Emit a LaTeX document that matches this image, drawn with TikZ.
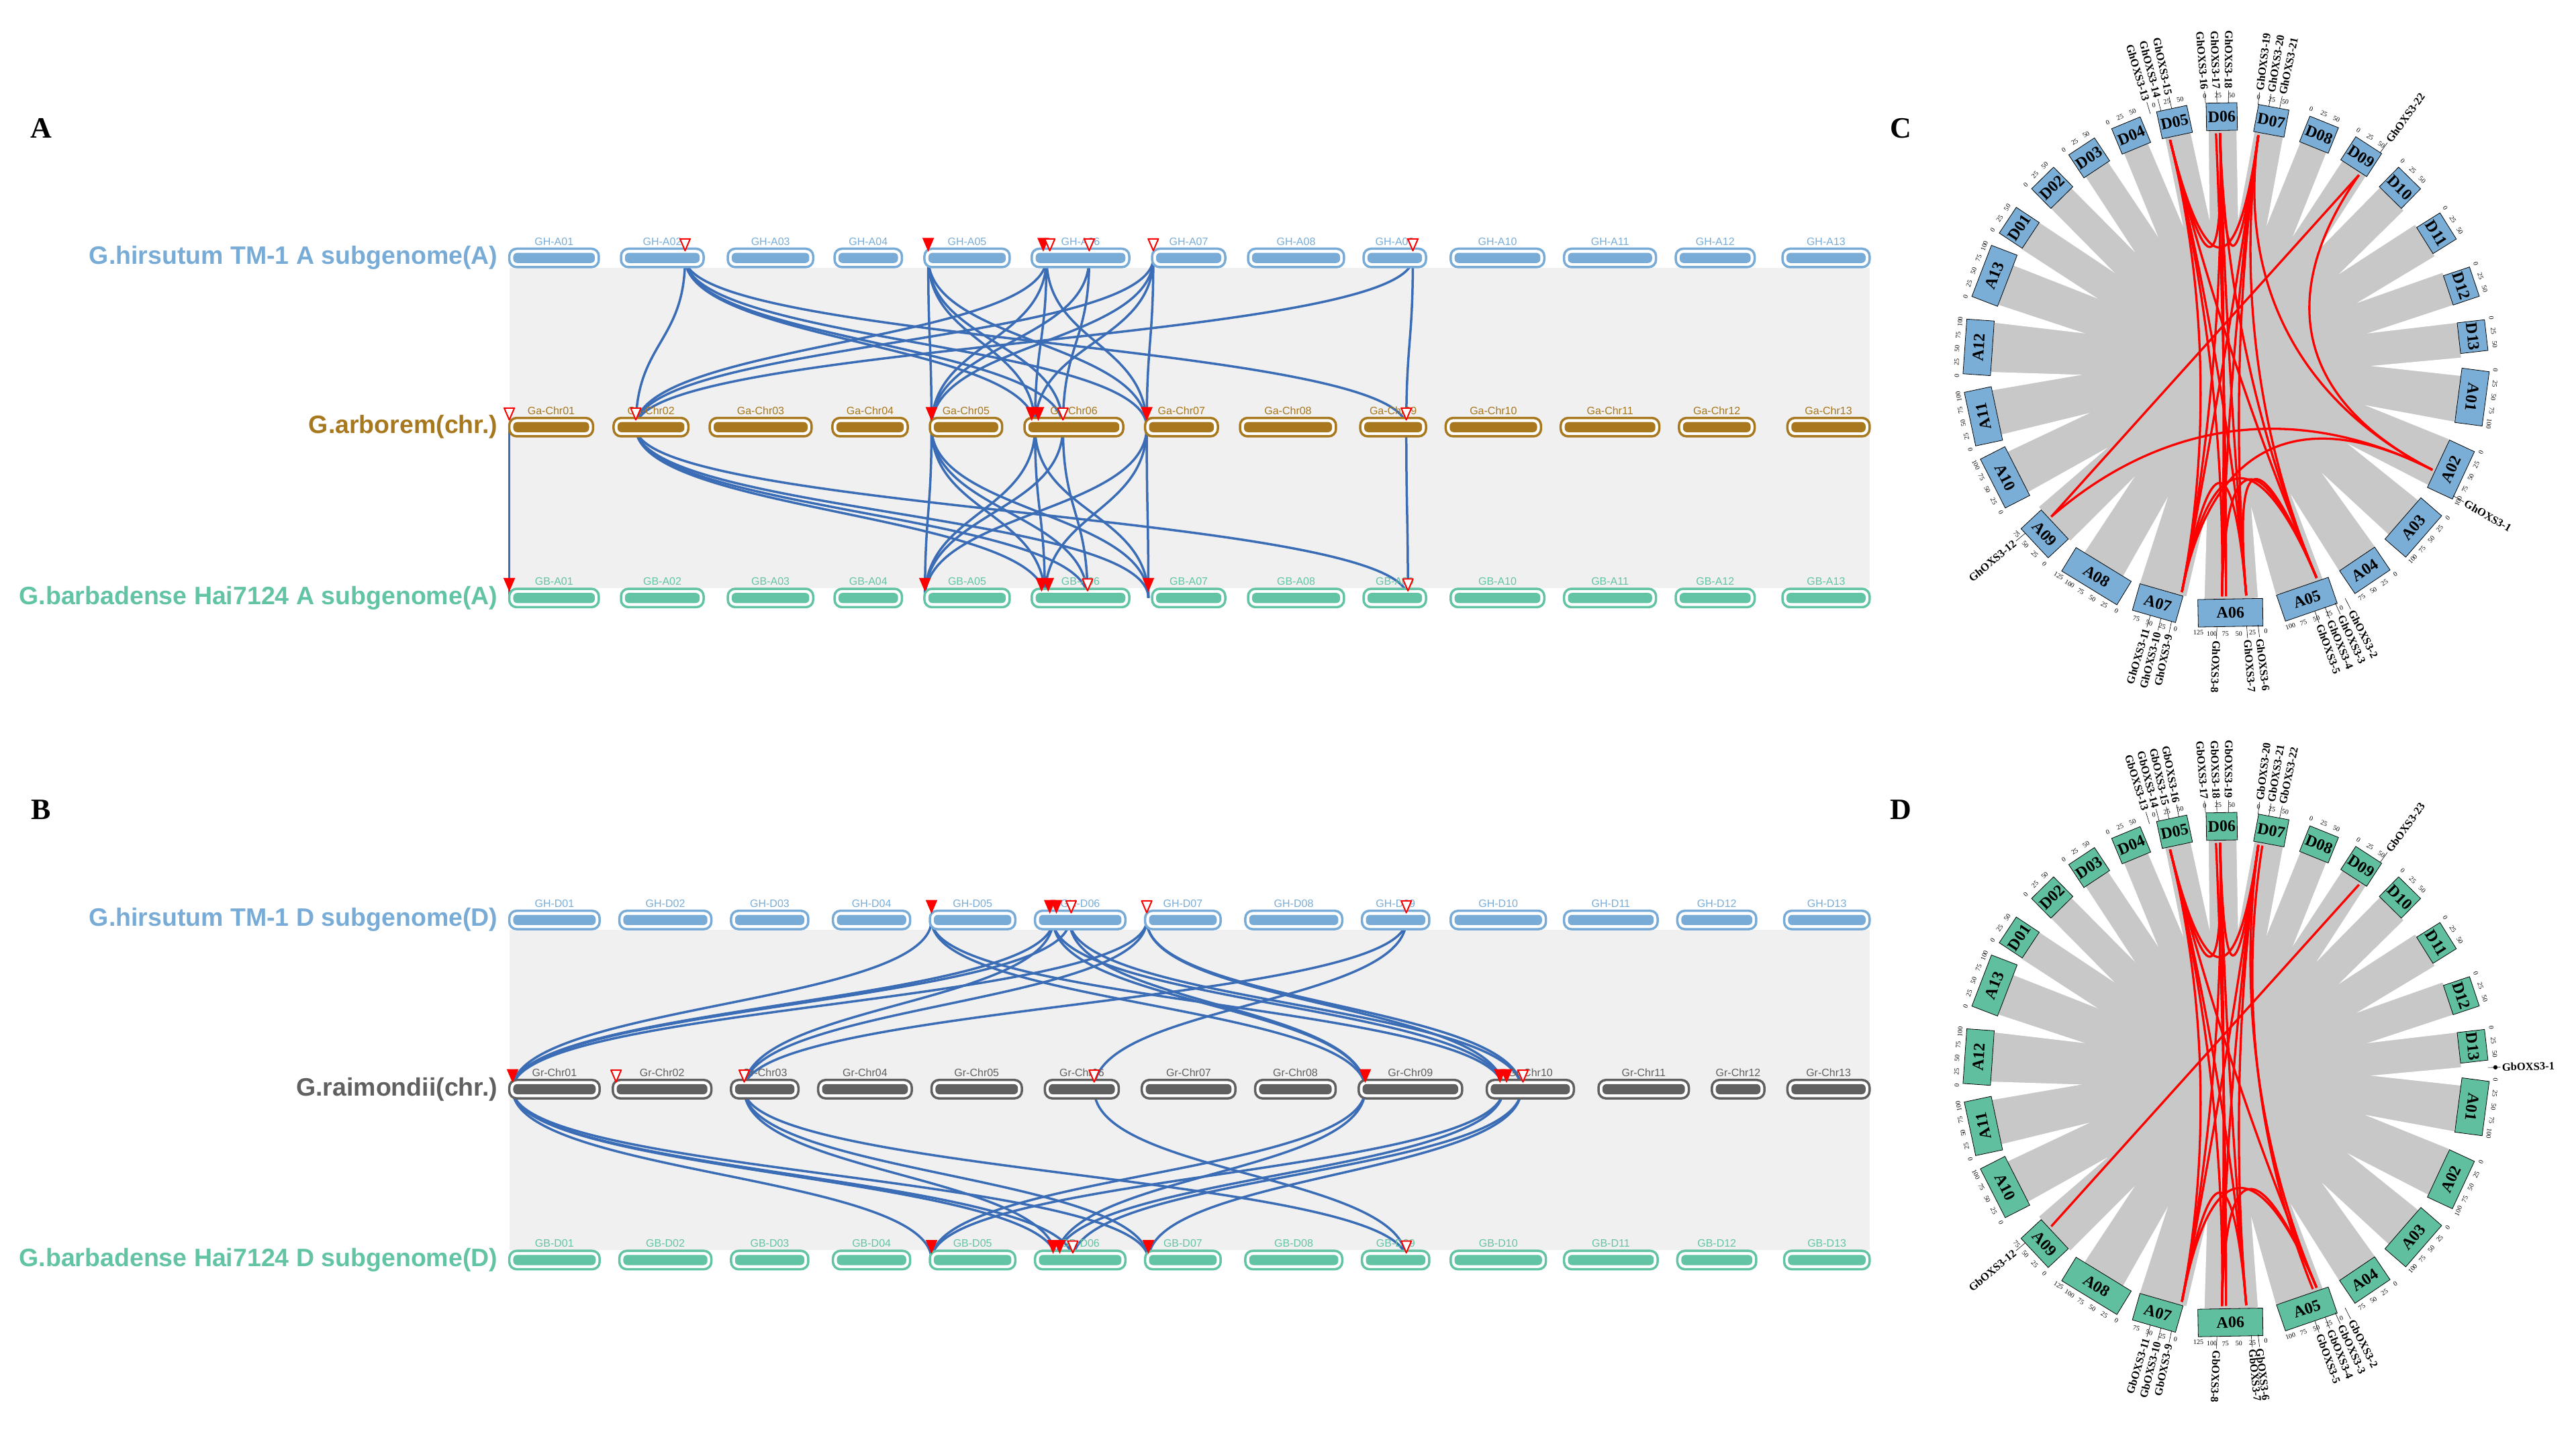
\documentclass[tikz,border=0pt]{standalone}
\usepackage{fontspec}
\setmainfont{Liberation Serif}
\newfontfamily\sansf{Liberation Sans}
\usetikzlibrary{calc}
\definecolor{ghc}{HTML}{78ACD6}
\definecolor{gac}{HTML}{A8781E}
\definecolor{gbc}{HTML}{62C3A5}
\definecolor{grc}{HTML}{606060}
\definecolor{bandg}{HTML}{F0F0F0}
\definecolor{linkb}{HTML}{3A6DB5}
\definecolor{cgray}{HTML}{C8C8C8}
\definecolor{cblue}{HTML}{7AAED6}
\definecolor{cteal}{HTML}{5FBF9F}
\tikzset{
 clab/.style={font=\sansf\fontsize{16}{16}\selectfont, inner sep=0pt},
 rowlab/.style={font=\sansf\bfseries\fontsize{37.5}{37.5}\selectfont, inner sep=0pt, anchor=east},
 plet/.style={font=\bfseries\fontsize{44}{44}\selectfont, inner sep=0pt},
 blk/.style={linkb, line width=3.5pt},
 rl/.style={red, line width=3.3pt},
 cbox/.style={draw=black, line width=0.8pt, minimum height=41pt, inner sep=0pt, font=\bfseries\fontsize{24}{24}\selectfont},
 tk/.style={font=\fontsize{10}{10}\selectfont, inner sep=0pt},
 gl/.style={font=\bfseries\fontsize{16.5}{16.5}\selectfont, inner sep=0pt},
}
\newcommand\cbar[6]{%
 \draw[#5, line width=3.5pt, fill=white, rounded corners=11pt] (#2,#4-5.6) rectangle (#3,#4+5.6);
 \fill[#5, rounded corners=6pt] (#2+2.4,#4-3.1) rectangle (#3-2.4,#4+3.1);
 \node[clab, text=#5] (#1) at ({(#2+#3)/2},#4-10) {#6};}
\newcommand\mko[2]{\draw[red,line width=2pt,fill=white,line join=round] (#1-3.1,#2-11.6) -- (#1+3.1,#2-11.6) -- (#1,#2-4.4) -- cycle;}
\newcommand\mkf[2]{\fill[red] (#1-3.6,#2-12.2) -- (#1+3.6,#2-12.2) -- (#1,#2-3.8) -- cycle;}
\newcommand\lk[2]{\path ($(#1)!0.5!(#2)$) coordinate (lkm); \draw[blk] (#1) .. controls (#1 |- lkm) and (#2 |- lkm) .. (#2);}
\newcommand\chord[2]{\draw[rl] (#1:141) .. controls (#1:50) and (#2:50) .. (#2:141);}
\newcommand\glab[3]{%
 \pgfmathsetmacro\gro{(#2>85 || #2<-100) ? #2+180 : #2}%
 \pgfmathsetmacro\gfl{(#2>85 || #2<-100) ? 1 : 0}%
 \draw[line width=0.6pt] (#2:159.5) -- (#2:167);
 \ifdim\gfl pt>0.5pt \node[gl,rotate=\gro,anchor=east] (#1) at (#2:168) {#3};
 \else \node[gl,rotate=\gro,anchor=west] (#1) at (#2:168) {#3};\fi}
\newcommand\circos[2]{%
 \fill[cgray] (0,0) circle (143);
 \foreach \m in {107.25,96.5,85.25,73.75,62.5,51.25,38.75,25.25,12.5,-0.5,-16.25,-33,-48.5,-63.5,-80,-97.5,-113.75,-129.25,-145,-160.5,-176,-192.5,-207.25,-219.5,-231,-242}
   \fill[white] (\m-2.3:146) -- (\m+2.3:146) -- (\m:88) -- cycle;
 \foreach \nm/\ang/\len in {D04/112.5/62,D05/102/62,D06/91/62,D07/79.5/62,D08/68/62,D09/57/62,D10/45.5/62,D11/32/62,D12/18.5/62,D13/6.5/62,A01/-7.5/110,A02/-25/105,A03/-41/110,A04/-56/85,A05/-71/110,A06/-89/130,A07/-106/90,A08/-121.5/130,A09/-137/80,A10/-153/110,A11/-168/110,A12/176/110,A13/159/110,D01/146.5/62,D02/134.5/62,D03/123.5/62}{
   \pgfmathsetmacro\rr{(\ang-90<-180) ? \ang+270 : \ang-90}
   \pgfmathsetmacro\rot{(\rr>110 || \rr<-110) ? \rr+180 : \rr}
   \pgfmathsetmacro\wpt{\len*0.115*3.14159/180*151*2.447}
   \node[cbox, fill=#2, minimum width=\wpt pt, rotate=\rot] (#1\nm) at (\ang:151) {\nm};
   \pgfmathtruncatemacro\nt{floor(\len/25)}
   \foreach \k in {0,...,\nt}{
     \pgfmathsetmacro\aa{\ang+(\len/2-25*\k)*0.115}
     \pgfmathtruncatemacro\vv{25*\k}
     \node[tk, rotate=\rot] (#1t\nm\k) at (\aa:164) {\vv};
   }
 }}
\begin{document}
\begin{tikzpicture}[x=2.447pt,y=-2.447pt]
\useasboundingbox (0,0) rectangle (1568,876.2);
% ---------------- Panel A ----------------
\node[plet] (letA) at (25,78) {A};
\fill[bandg] (310,163) rectangle (1138,358);
\coordinate (hA2) at (417,157); \coordinate (hA5) at (565,157); \coordinate (hA6a) at (637,157);
\coordinate (hA6b) at (663,157); \coordinate (hA7) at (702,157); \coordinate (hA9) at (860,157);
\coordinate (gA1) at (310,260); \coordinate (gA2) at (387,260); \coordinate (gA5) at (567,260);
\coordinate (gA6a) at (630,260); \coordinate (gA6b) at (647,260); \coordinate (gA7) at (698,260); \coordinate (gA9) at (856,260);
\coordinate (bA1) at (310,364); \coordinate (bA5) at (563,364); \coordinate (bA6a) at (636,364);
\coordinate (bA6b) at (662,364); \coordinate (bA7) at (699,364); \coordinate (bA9) at (857,364);
\lk{hA2}{gA2}\lk{hA2}{gA6a}\lk{hA2}{gA7}\lk{hA2}{gA9}\lk{hA2}{gA6b}
\lk{hA5}{gA5}\lk{hA5}{gA6a}\lk{hA5}{gA7}\lk{hA5}{gA6b}
\lk{hA6a}{gA2}\lk{hA6a}{gA5}\lk{hA6a}{gA6a}\lk{hA6a}{gA7}
\lk{hA6b}{gA6b}\lk{hA6b}{gA5}
\lk{hA7}{gA2}\lk{hA7}{gA5}\lk{hA7}{gA6a}\lk{hA7}{gA7}
\lk{hA9}{gA2}\lk{hA9}{gA9}
\lk{gA1}{bA1}\lk{gA2}{bA6a}\lk{gA2}{bA7}\lk{gA2}{bA9}\lk{gA2}{bA6b}
\lk{gA5}{bA5}\lk{gA5}{bA6a}\lk{gA5}{bA7}\lk{gA5}{bA6b}
\lk{gA6a}{bA5}\lk{gA6a}{bA6a}\lk{gA6a}{bA7}
\lk{gA6b}{bA6b}\lk{gA6b}{bA5}
\lk{gA7}{bA5}\lk{gA7}{bA6a}\lk{gA7}{bA7}\lk{gA9}{bA9}
\foreach \i/\a/\b in {01/310/364.5,02/378/428.3,03/443/495,04/508/549,05/562.7/614.6,06/628/687.4,07/701.3/745.8,08/759.7/818.1,09/830/868,10/883/940,11/952/1008,12/1020/1068,13/1085/1138}{
  \cbar{ghA\i}{\a}{\b}{157}{ghc}{GH-A\i}
  \cbar{gbA\i}{\a}{\b}{364}{gbc}{GB-A\i}}
\foreach \i/\a/\b in {01/310/361,02/373.5/419,03/432/494,04/506.7/552.5,05/566/610,06/623.6/683.7,07/697/741.3,08/754.8/813.2,09/828/868,10/880/938,11/950/1010,12/1022/1068,13/1088/1138}{
  \cbar{gaA\i}{\a}{\b}{260}{gac}{Ga-Chr\i}}
\mko{417}{157}\mkf{565}{157}\mkf{635}{157}\mko{639}{157}\mko{663}{157}\mko{702}{157}\mko{860}{157}
\mko{310}{260}\mko{387}{260}\mkf{567}{260}\mkf{628}{260}\mkf{632}{260}\mko{647}{260}\mkf{698}{260}\mko{856}{260}
\mkf{310}{364}\mkf{563}{364}\mkf{634}{364}\mkf{638}{364}\mko{662}{364}\mkf{699}{364}\mko{857}{364}
\node[rowlab, text=ghc] (lA1) at (303,157) {G.hirsutum TM-1 A subgenome(A)};
\node[rowlab, text=gac] (lA2) at (303,260) {G.arborem(chr.)};
\node[rowlab, text=gbc] (lA3) at (303,364) {G.barbadense Hai7124 A subgenome(A)};
% ---------------- Panel B ----------------
\node[plet] (letB) at (25,493) {B};
\fill[bandg] (310,566) rectangle (1138,761);
\coordinate (hD5) at (567,560); \coordinate (hD6a) at (641,560); \coordinate (hD6b) at (651,560);
\coordinate (hD7) at (698,560); \coordinate (hD9) at (856,560);
\coordinate (r1) at (312,663); \coordinate (r3) at (453,663); \coordinate (r6) at (666,663);
\coordinate (r9) at (831,663); \coordinate (r10a) at (915,663); \coordinate (r10b) at (926,663);
\coordinate (bD5) at (567,767); \coordinate (bD6a) at (643,767); \coordinate (bD6b) at (653,767);
\coordinate (bD7) at (699,767); \coordinate (bD9) at (856,767);
\lk{hD5}{r1}\lk{hD5}{r9}\lk{hD5}{r10a}
\lk{hD6a}{r1}\lk{hD6a}{r3}\lk{hD6a}{r10a}\lk{hD6a}{r9}
\lk{hD6b}{r9}\lk{hD6b}{r10b}\lk{hD6b}{r1}
\lk{hD7}{r1}\lk{hD7}{r3}\lk{hD7}{r10a}\lk{hD7}{r10b}
\lk{hD9}{r3}\lk{hD9}{r6}
\lk{r1}{bD5}\lk{r1}{bD6a}\lk{r1}{bD6b}\lk{r1}{bD7}
\lk{r3}{bD6a}\lk{r3}{bD7}\lk{r3}{bD9}
\lk{r6}{bD9}
\lk{r9}{bD5}\lk{r9}{bD6a}
\lk{r10a}{bD5}\lk{r10a}{bD6a}\lk{r10b}{bD6b}\lk{r10b}{bD7}
\foreach \i/\a/\b in {01/310/365,02/377/433,03/445/492,04/507/554,05/566/618,06/630/685,07/697/743,08/758/817,09/829/870,10/883/941,11/952/1009,12/1021/1069,13/1086/1138}{
  \cbar{ghD\i}{\a}{\b}{560}{ghc}{GH-D\i}
  \cbar{gbD\i}{\a}{\b}{767}{gbc}{GB-D\i}}
\foreach \i/\a/\b in {01/310/365,02/373/433,03/445/486,04/498/555,05/567/622,06/636/681,07/695/752,08/764/813,09/827/890,10/905/958,11/973/1028,12/1042/1074,13/1088/1138}{
  \cbar{grB\i}{\a}{\b}{663}{grc}{Gr-Chr\i}}
\mkf{567}{560}\mkf{639}{560}\mkf{643}{560}\mko{652}{560}\mko{698}{560}\mko{856}{560}
\mkf{312}{663}\mko{375}{663}\mko{453}{663}\mko{666}{663}\mkf{831}{663}\mkf{913}{663}\mkf{917}{663}\mko{927}{663}
\mkf{567}{767}\mkf{641}{767}\mkf{645}{767}\mko{653}{767}\mkf{699}{767}\mko{856}{767}
\node[rowlab, text=ghc] (lB1) at (303,560) {G.hirsutum TM-1 D subgenome(D)};
\node[rowlab, text=grc] (lB2) at (303,663) {G.raimondii(chr.)};
\node[rowlab, text=gbc] (lB3) at (303,767) {G.barbadense Hai7124 D subgenome(D)};
% ---------------- Panel C ----------------
\node[plet] (letC) at (1157,78) {C};
\begin{scope}[shift={(1355,222)},yscale=-1]
 \circos{C}{cblue}
 \chord{104}{-91}\chord{104}{-85}\chord{104}{-101}\chord{104}{-67}\chord{104}{82}\chord{104}{91.5}
 \chord{91.5}{-91}\chord{92.5}{-90}\chord{91.5}{-85}\chord{91.5}{-101}\chord{91.5}{-67}\chord{91.5}{82}
 \chord{82}{-91}\chord{82}{-85}\chord{82}{-101}\chord{82}{-67}\chord{82}{-27}
 \draw[rl] (55:141) -- (-139:141);
 \chord{55}{-27}\chord{-27}{-139}\chord{-27}{-101}
 \chord{-101}{-85}\chord{-101}{-67}\chord{-91}{-67}\chord{-85}{-67}
 \glab{gC13}{106.8}{GhOXS3-13}\glab{gC14}{104.4}{GhOXS3-14}\glab{gC15}{102}{GhOXS3-15}
 \glab{gC16}{94.5}{GhOXS3-16}\glab{gC17}{92}{GhOXS3-17}\glab{gC18}{89.5}{GhOXS3-18}
 \glab{gC19}{83}{GhOXS3-19}\glab{gC20}{80.6}{GhOXS3-20}\glab{gC21}{78.2}{GhOXS3-21}
 \glab{gC22}{54}{GhOXS3-22}\glab{gC1}{-30}{GhOXS3-1}
 \glab{gC2}{-63}{GhOXS3-2}\glab{gC3}{-65.4}{GhOXS3-3}\glab{gC4}{-67.8}{GhOXS3-4}\glab{gC5}{-70.2}{GhOXS3-5}
 \glab{gC6}{-83}{GhOXS3-6}\glab{gC7}{-85.5}{GhOXS3-7}\glab{gC8}{-92}{GhOXS3-8}
 \glab{gC9}{-102}{GhOXS3-9}\glab{gC10}{-104.4}{GhOXS3-10}\glab{gC11}{-106.8}{GhOXS3-11}
 \glab{gC12}{-140}{GhOXS3-12}
\end{scope}
% ---------------- Panel D ----------------
\node[plet] (letD) at (1157,493) {D};
\begin{scope}[shift={(1355,654)},yscale=-1]
 \circos{D}{cteal}
 \chord{104}{-91}\chord{104}{-85}\chord{104}{-101}\chord{104}{-67}\chord{104}{82}\chord{104}{91.5}
 \chord{91.5}{-91}\chord{92.5}{-90}\chord{91.5}{-85}\chord{91.5}{-101}\chord{91.5}{82}
 \chord{82}{-91}\chord{82}{-85}\chord{82}{-101}\chord{82}{-67}\chord{81}{-68}
 \draw[rl] (55:141) -- (-139:141);
 \chord{-101}{-85}\chord{-101}{-67}\chord{-91}{-67}
 \glab{gD13}{107}{GbOXS3-13}\glab{gD14}{104.8}{GbOXS3-14}\glab{gD15}{102.6}{GbOXS3-15}\glab{gD16}{100.4}{GbOXS3-16}
 \glab{gD17}{94.5}{GbOXS3-17}\glab{gD18}{92}{GbOXS3-18}\glab{gD19}{89.5}{GbOXS3-19}
 \glab{gD20}{83}{GbOXS3-20}\glab{gD21}{80.6}{GbOXS3-21}\glab{gD22}{78.2}{GbOXS3-22}
 \glab{gD23}{54}{GbOXS3-23}\glab{gD1}{1.5}{GbOXS3-1}
 \fill (1.5:164) circle (1.3);
 \glab{gD2}{-63}{GbOXS3-2}\glab{gD3}{-65.4}{GbOXS3-3}\glab{gD4}{-67.8}{GbOXS3-4}\glab{gD5}{-70.2}{GbOXS3-5}
 \glab{gD6}{-83}{GbOXS3-6}\glab{gD7}{-84.5}{GbOXS3-7}\glab{gD8}{-92}{GbOXS3-8}
 \glab{gD9}{-102}{GbOXS3-9}\glab{gD10}{-104.4}{GbOXS3-10}\glab{gD11}{-106.8}{GbOXS3-11}
 \glab{gD12}{-140}{GbOXS3-12}
\end{scope}
\end{tikzpicture}
\end{document}
